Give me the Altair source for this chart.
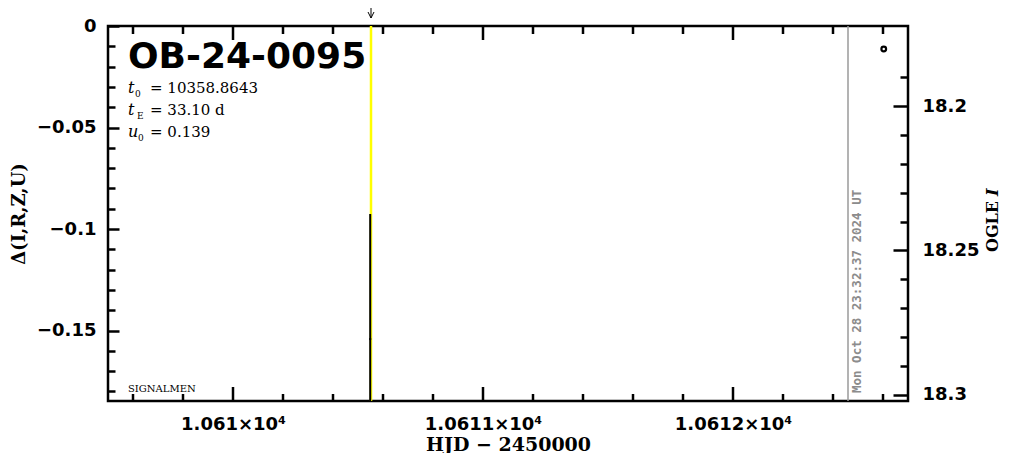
import altair as alt
import pandas as pd

# ---------------- data ----------------
event_name = "OB-24-0095"
param_sym = ["t", "t", "u"]
param_sub = ["0", "E", "0"]
param_val = ["= 10358.8643", "= 33.10 d", "= 0.139"]

event_hjd = [10610.552]          # vertical model line / arrow position
model_top = [0.0]
model_break = [-0.0926]          # yellow part above, black part below
model_bottom = [-0.1847]

obs_hjd = [10612.603]
obs_delta = [-0.0113]
dot_hjd = [10610.552]
dot_delta = [-0.1542]

stamp_hjd = [10612.46]
stamp_text = ["Mon Oct 28 23:32:37 2024 UT"]
signature = "SIGNALMEN"

x_domain = [10609.5, 10612.7]
d_domain = [-0.1847, 0.0]
mag_domain = [18.1723, 18.3021]

x_major = [10610, 10611, 10612]
x_minor = [10609.6, 10609.8, 10610.2, 10610.4, 10610.6, 10610.8, 10611.2,
           10611.4, 10611.6, 10611.8, 10612.2, 10612.4, 10612.6]
d_major = [0.0, -0.05, -0.1, -0.15]
d_minor = [-0.01, -0.02, -0.03, -0.04, -0.06, -0.07, -0.08, -0.09, -0.11,
           -0.12, -0.13, -0.14, -0.16, -0.17, -0.18]
m_major = [18.2, 18.25, 18.3]
m_minor = [18.19, 18.21, 18.22, 18.23, 18.24, 18.26, 18.27, 18.28, 18.29]

W, H = 800, 375
SANS = "DejaVu Sans"
SERIF = "DejaVu Serif"

xs = alt.Scale(domain=x_domain, nice=False, zero=False)
ds = alt.Scale(domain=d_domain, nice=False, zero=False)
ms = alt.Scale(domain=mag_domain, nice=False, zero=False, reverse=True)

anchor = pd.DataFrame({"x": x_major, "d": d_major[:3], "m": m_major})


def tick_axis(orient, values, size):
    return alt.Axis(orient=orient, values=values, labels=False, domain=False,
                    grid=False, ticks=True, tickSize=size, offset=-size,
                    tickWidth=2.5, tickColor="black", title=None)


def axis_layer(x_axis, y_axis, yfield, yscale):
    return alt.Chart(anchor).mark_point(opacity=0).encode(
        x=alt.X("x:Q", scale=xs, axis=x_axis),
        y=alt.Y(f"{yfield}:Q", scale=yscale, axis=y_axis),
    )


bottom_labels = alt.Axis(
    orient="bottom", values=x_major, ticks=False, domain=False, grid=False,
    labelExpr="format(datum.value/10000, '.5~g') + '×10⁴'",
    labelPadding=14, labelFont=SANS, labelFontSize=18, labelFontWeight="bold",
    labelColor="black", labelFlush=False, labelOverlap=False,
    title="HJD − 2450000", titleFont=SERIF, titleFontSize=19,
    titleFontWeight="bold", titleColor="black", titleX=W / 2, titleY=43,
    titleBaseline="middle", titleAlign="center")

left_labels = alt.Axis(
    orient="left", values=d_major, ticks=False, domain=False, grid=False,
    format="~g", labelPadding=12, labelFont=SANS, labelFontSize=18,
    labelFontWeight="bold", labelColor="black", labelFlush=False,
    labelOverlap=False,
    title="Δ(I,R,Z,U)", titleFont=SERIF, titleFontSize=18,
    titleFontWeight="bold", titleColor="black", titleX=-89, titleY=H / 2,
    titleAngle=270, titleBaseline="middle", titleAlign="center")

right_labels = alt.Axis(
    orient="right", values=m_major, ticks=False, domain=False, grid=False,
    format="~g", labelPadding=14, labelFont=SANS, labelFontSize=18,
    labelFontWeight="bold", labelColor="black", labelFlush=False,
    labelOverlap=False, title=None)

layers = [
    axis_layer(bottom_labels, left_labels, "d", ds),
    axis_layer(None, tick_axis("left", d_major, 11), "d", ds),
    axis_layer(None, tick_axis("left", d_minor, 7), "d", ds),
    axis_layer(None, right_labels, "m", ms),
    axis_layer(None, tick_axis("right", m_major, 15), "m", ms),
    axis_layer(None, tick_axis("right", m_minor, 8), "m", ms),
]

# vertical model line: yellow full height, black lower part
ev = pd.DataFrame({"hjd": event_hjd, "top": model_top,
                   "brk": model_break, "bot": model_bottom})
layers.append(alt.Chart(ev).mark_rule(color="#ffff00", strokeWidth=2.5).encode(
    x=alt.X("hjd:Q", scale=xs, axis=None),
    y=alt.Y("top:Q", scale=ds, axis=None), y2="bot:Q"))
layers.append(alt.Chart(ev).mark_rule(color="black", strokeWidth=2, xOffset=-0.8).encode(
    x=alt.X("hjd:Q", scale=xs, axis=None),
    y=alt.Y("brk:Q", scale=ds, axis=None), y2="bot:Q"))

# arrow above the frame
layers.append(alt.Chart(ev).mark_rule(color="black", strokeWidth=1).encode(
    x=alt.X("hjd:Q", scale=xs, axis=None), y=alt.value(-18), y2=alt.value(-8)))
layers.append(alt.Chart(ev).mark_point(shape="M-1,-1L0,1L1,-1", size=36, filled=False,
                                       color="black", strokeWidth=1, opacity=1).encode(
    x=alt.X("hjd:Q", scale=xs, axis=None), y=alt.value(-11)))

# time stamp line and text
st = pd.DataFrame({"hjd": stamp_hjd, "label": stamp_text})
layers.append(alt.Chart(st).mark_rule(color="#9a9a9a", strokeWidth=1.5).encode(
    x=alt.X("hjd:Q", scale=xs, axis=None)))
layers.append(alt.Chart(st).mark_text(angle=270, align="left", baseline="top",
                                      xOffset=3, font="DejaVu Sans Mono",
                                      fontWeight="bold", fontSize=12.5,
                                      color="#8c8c8c").encode(
    x=alt.X("hjd:Q", scale=xs, axis=None), y=alt.value(367), text="label:N"))

# observed points
ob = pd.DataFrame({"hjd": obs_hjd, "d": obs_delta})
layers.append(alt.Chart(ob).mark_point(shape="circle", filled=False, color="black",
                                       size=22, strokeWidth=2.2, opacity=1).encode(
    x=alt.X("hjd:Q", scale=xs, axis=None), y=alt.Y("d:Q", scale=ds, axis=None)))
dt = pd.DataFrame({"hjd": dot_hjd, "d": dot_delta})
layers.append(alt.Chart(dt).mark_point(shape="square", filled=True, color="black",
                                       size=4, opacity=1, xOffset=-0.8).encode(
    x=alt.X("hjd:Q", scale=xs, axis=None), y=alt.Y("d:Q", scale=ds, axis=None)))

# annotation texts
txt = pd.DataFrame({"name": [event_name], "sig": [signature]})
layers.append(alt.Chart(txt).mark_text(align="left", baseline="alphabetic", font=SANS,
                                       fontWeight="bold", fontSize=36, color="black").encode(
    x=alt.value(20), y=alt.value(42), text="name:N"))
layers.append(alt.Chart(txt).mark_text(align="left", baseline="alphabetic", font=SERIF,
                                       fontSize=10, color="black").encode(
    x=alt.value(20), y=alt.value(366), text="sig:N"))

base_y = [67, 89, 111]
sub_x = [27, 29, 30]
for i in range(3):
    row = pd.DataFrame({"s": [param_sym[i]], "b": [param_sub[i]], "v": [param_val[i]]})
    layers.append(alt.Chart(row).mark_text(align="left", baseline="alphabetic", font=SERIF,
                                           fontStyle="italic", fontSize=16, color="black").encode(
        x=alt.value(20), y=alt.value(base_y[i]), text="s:N"))
    layers.append(alt.Chart(row).mark_text(align="left", baseline="alphabetic", font=SERIF,
                                           fontSize=9, color="black").encode(
        x=alt.value(sub_x[i]), y=alt.value(base_y[i] + 4), text="b:N"))
    layers.append(alt.Chart(row).mark_text(align="left", baseline="alphabetic", font=SERIF,
                                           fontSize=15, color="black").encode(
        x=alt.value(42), y=alt.value(base_y[i]), text="v:N"))

# right axis title "OGLE I"
rt = pd.DataFrame({"a": ["OGLE"], "b": ["I"]})
layers.append(alt.Chart(rt).mark_text(angle=270, align="left", baseline="alphabetic",
                                      font=SERIF, fontWeight="bold", fontSize=16,
                                      color="black").encode(
    x=alt.value(890), y=alt.value(226), text="a:N"))
layers.append(alt.Chart(rt).mark_text(angle=270, align="left", baseline="alphabetic",
                                      font=SERIF, fontWeight="bold", fontStyle="italic",
                                      fontSize=16, color="black").encode(
    x=alt.value(890), y=alt.value(170), text="b:N"))

# inward ticks on the bottom and top edges (drawn last)
for vals, y0, y1 in [(x_major, H - 14, H), (x_minor, H - 7, H),
                     (x_major, 0, 14), (x_minor, 0, 8)]:
    tdf = pd.DataFrame({"v": vals})
    layers.append(alt.Chart(tdf).mark_rule(color="black", strokeWidth=2.5).encode(
        x=alt.X("v:Q", scale=xs, axis=None), y=alt.value(y0), y2=alt.value(y1)))

chart = alt.layer(*layers).resolve_scale(
    x="independent", y="independent"
).resolve_axis(
    x="independent", y="independent"
).properties(
    width=W, height=H,
    autosize=alt.AutoSizeParams(type="none"),
    padding={"left": 100, "top": 18, "right": 95, "bottom": 52},
    background="white",
).configure_view(stroke="black", strokeWidth=2.5)

chart.save("out.html", embed_options={"renderer": "svg", "actions": False})
